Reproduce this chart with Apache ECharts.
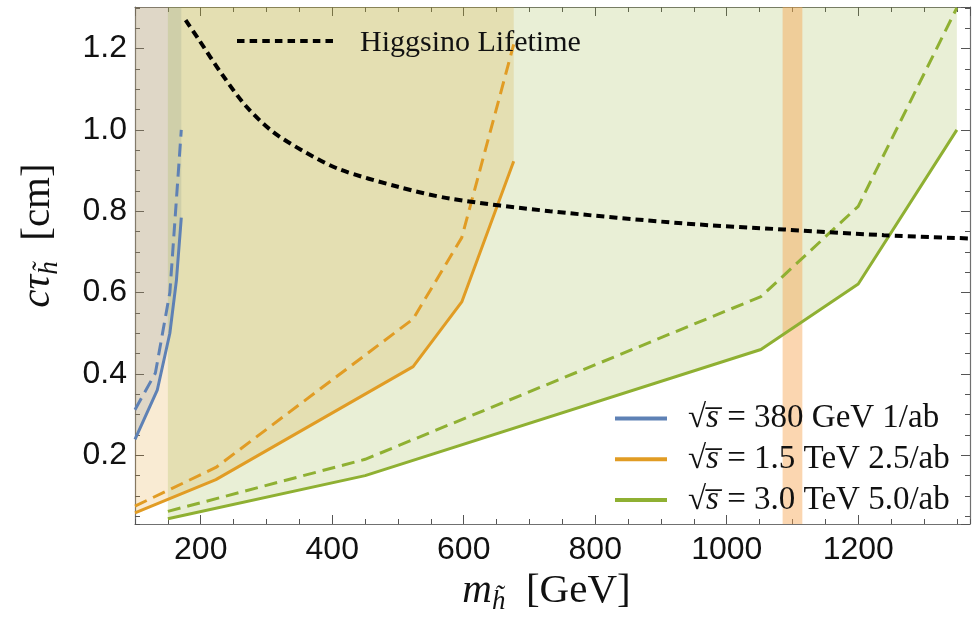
<!DOCTYPE html>
<html><head><meta charset="utf-8">
<script src="https://cdn.jsdelivr.net/npm/echarts@6/dist/echarts.min.js"></script>
<style>html,body{margin:0;padding:0;background:#fff}#c{width:973px;height:624px}</style>
</head><body><div id="c"></div>
<script>
// ---- data ----
const blueMass = [100, 134, 153, 163, 170.4];
const blueSolid = [0.239, 0.361, 0.50, 0.63, 0.784];
const blueDashMass = [100, 131, 153, 160, 170.4];
const blueDashed = [0.312, 0.402, 0.60, 0.76, 1.0];
const orangeMass = [100, 223, 523, 597, 676];
const orangeSolid = [0.0585, 0.140, 0.418, 0.577, 0.923];
const orangeDashed = [0.075, 0.170, 0.535, 0.735, 1.21];
const greenMass = [150, 450, 1052, 1200, 1350];
const greenSolid = [0.044, 0.150, 0.460, 0.621, 1.0];
const greenDashed = [0.062, 0.190, 0.590, 0.812, 1.30];
const lifetimeMass = [177, 197, 233, 269, 309, 360, 411, 500, 579, 731, 934, 1087, 1239, 1370];
const lifetime = [1.270, 1.222, 1.135, 1.058, 0.996, 0.944, 0.903, 0.860, 0.831, 0.800, 0.770, 0.755, 0.741, 0.733];
const bandRange = [1085, 1115];
const legendNames = ['√s = 380 GeV 1/ab', '√s = 1.5 TeV 2.5/ab', '√s = 3.0 TeV 5.0/ab'];
const legendRest = ['380 GeV 1/ab', '1.5 TeV 2.5/ab', '3.0 TeV 5.0/ab'];
const lifetimeName = 'Higgsino Lifetime';
const xRange = [100, 1370];
const yRange = [0.031, 1.302];

const pairs = (xs, ys) => xs.map((x, i) => [x, ys[i]]);
const BLUE = '#5E81B5', ORANGE = '#E19C24', GREEN = '#8FB032';
const SERIF = 'Liberation Serif', SANS = 'Liberation Sans';
const frame = {color: '#707070', width: 1.2};
const tickStyle = {color: '#555', width: 1};

function mkX(pos, minor, withLabels) {
  return {
    type: 'value', min: xRange[0], max: xRange[1], position: pos,
    splitNumber: minor ? 25 : 6,
    axisLine: {show: !minor, onZero: false, lineStyle: frame},
    axisTick: {show: true, inside: true, length: minor ? 5 : 9, lineStyle: tickStyle},
    axisLabel: {show: !!withLabels, margin: 10, fontSize: 32, fontFamily: SANS, color: '#111',
      showMinLabel: false, showMaxLabel: false, formatter: (v) => String(Math.round(v))},
    splitLine: {show: false}
  };
}
function mkY(pos, minor, withLabels) {
  return {
    type: 'value', min: yRange[0], max: yRange[1], position: pos,
    splitNumber: minor ? 25 : 6,
    axisLine: {show: !minor, onZero: false, lineStyle: frame},
    axisTick: {show: true, inside: true, length: minor ? 5 : 9, lineStyle: tickStyle},
    axisLabel: {show: !!withLabels, margin: 8, fontSize: 32, fontFamily: SANS, color: '#111',
      showMinLabel: false, showMaxLabel: false, formatter: (v) => v.toFixed(1)},
    splitLine: {show: false}
  };
}
const nameRich = {
  it: {fontFamily: SERIF, fontStyle: 'italic', fontSize: 41, color: '#111'},
  sub: {fontFamily: SERIF, fontStyle: 'italic', fontSize: 27, color: '#111', padding: [22, 0, 0, 0]},
  rm: {fontFamily: SERIF, fontSize: 41, color: '#111'}
};
const x0 = mkX('bottom', false, true);
x0.name = '{it|m}{sub|h\u0303}{rm|  [GeV]}';
x0.nameLocation = 'middle';
x0.nameGap = 38;
x0.nameTextStyle = {fontFamily: SERIF, fontSize: 41, color: '#111', rich: nameRich, padding: [0, 12, 0, 0]};
const y0 = mkY('left', false, true);
y0.name = '{it|cτ}{sub|h\u0303}{rm|  [cm]}';
y0.nameLocation = 'middle';
y0.nameGap = 72;
y0.nameTextStyle = {fontFamily: SERIF, fontSize: 41, color: '#111', rich: nameRich, padding: [0, 0, 0, 60]};

function fill(name, xs, ys, color) {
  return {name, type: 'line', data: pairs(xs, ys), symbol: 'none', silent: true, z: 1,
    lineStyle: {width: 0, opacity: 0}, areaStyle: {color, origin: 'end', opacity: 1}};
}
function curve(name, xs, ys, color, dashed) {
  return {name, type: 'line', data: pairs(xs, ys), symbol: 'none', z: 3, color,
    lineStyle: {color, width: 3, type: dashed ? [13, 7] : 'solid', cap: 'butt'}};
}

// dotted legend icon path
let dotPath = 'path://';
for (let i = 0; i < 8; i++) { const s = i * 12.64; dotPath += `M${s.toFixed(2)} 0h7.5v4h-7.5z`; }

const legRich = {
  r: {fontFamily: SERIF, fontSize: 33, color: '#111', lineHeight: 34},
  r0: {fontFamily: SERIF, fontSize: 33, color: '#111', lineHeight: 34, padding: [0, 0, 0, 16]},
  it: {fontFamily: SERIF, fontStyle: 'italic', fontSize: 33, color: '#111', lineHeight: 34}
};

const option = {
  animation: false,
  backgroundColor: '#fff',
  grid: {left: 135, right: 3, top: 7, bottom: 100, containLabel: false},
  xAxis: [x0, mkX('bottom', true), mkX('top', false), mkX('top', true)],
  yAxis: [y0, mkY('left', true), mkY('right', false), mkY('right', true)],
  legend: [
    {data: legendNames, orient: 'vertical', left: 610, top: 397, itemWidth: 52, itemHeight: 4,
      itemGap: 7.7, icon: 'rect', selectedMode: false,
      formatter: (n) => '{r0|√}{it|s\u0305}{r| = ' + legendRest[legendNames.indexOf(n)] + '}',
      textStyle: {fontFamily: SERIF, fontSize: 33, color: '#111', rich: legRich}},
    {data: [lifetimeName], left: 232, top: 23, itemWidth: 96, itemHeight: 4, icon: dotPath,
      selectedMode: false,
      formatter: '{a|{name}}',
      textStyle: {fontFamily: SERIF, fontSize: 30, color: '#111',
        rich: {a: {fontFamily: SERIF, fontSize: 30, color: '#111', padding: [4, 0, 0, 22]}}}}
  ],
  series: [
    fill('fillBlue', blueMass, blueSolid, 'rgba(94,129,181,0.2)'),
    fill('fillOrange', orangeMass, orangeSolid, 'rgba(225,156,36,0.2)'),
    fill('fillGreen', greenMass, greenSolid, 'rgba(143,176,50,0.2)'),
    {name: 'band', type: 'line', data: pairs(greenMass, greenSolid), symbol: 'none', silent: true, z: 2,
      lineStyle: {width: 0, opacity: 0},
      markArea: {silent: true, z: 2, itemStyle: {color: 'rgba(247,165,80,0.45)'},
        data: [[{xAxis: bandRange[0]}, {xAxis: bandRange[1]}]]}},
    curve(legendNames[0], blueMass, blueSolid, BLUE, false),
    curve('blueDashed', blueDashMass, blueDashed, BLUE, true),
    curve(legendNames[1], orangeMass, orangeSolid, ORANGE, false),
    curve('orangeDashed', orangeMass, orangeDashed, ORANGE, true),
    curve(legendNames[2], greenMass, greenSolid, GREEN, false),
    curve('greenDashed', greenMass, greenDashed, GREEN, true),
    {name: lifetimeName, type: 'line', data: pairs(lifetimeMass, lifetime), symbol: 'none', z: 4,
      smooth: 0.3, color: '#000', lineStyle: {color: '#000', width: 4, type: [8, 5], cap: 'butt'}}
  ]
};
const chart = echarts.init(document.getElementById('c'), null, {renderer: 'canvas'});
chart.setOption(option);
</script></body></html>
